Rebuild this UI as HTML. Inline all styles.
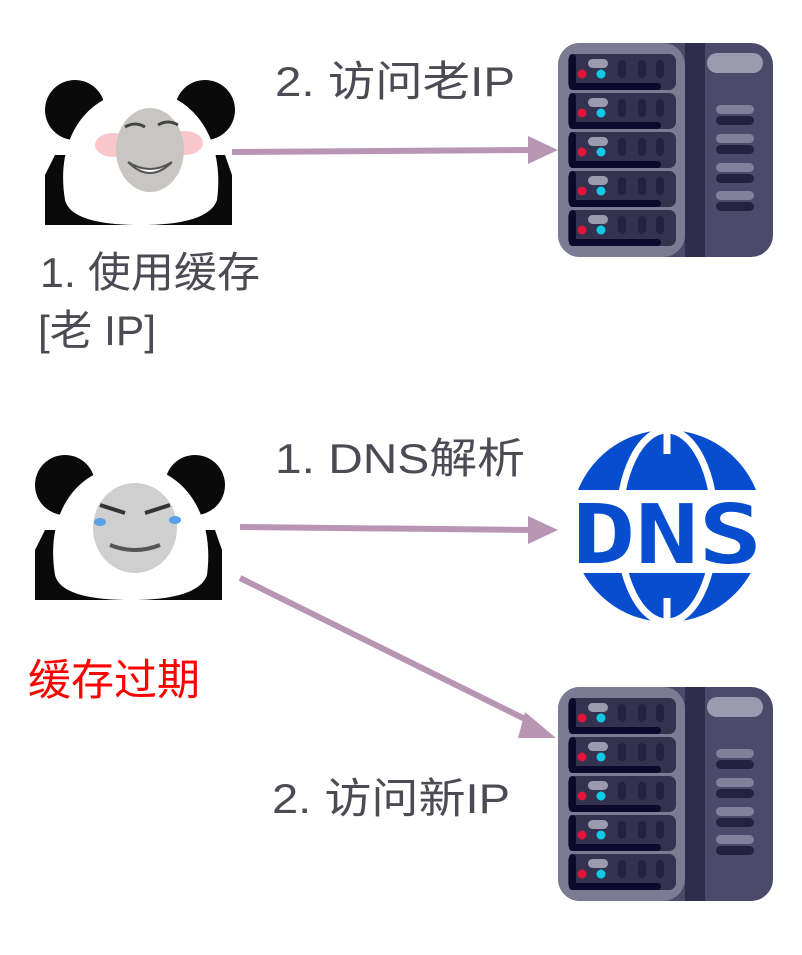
<!DOCTYPE html>
<html><head><meta charset="utf-8"><style>
body{margin:0;background:#fff;width:802px;height:950px;overflow:hidden}
text{font-family:"Liberation Sans","Noto Sans CJK SC",sans-serif}
</style></head><body>
<svg width="802" height="950" viewBox="0 0 802 950" xmlns="http://www.w3.org/2000/svg">
<defs>
<g id="srv">
  <rect x="0" y="0" width="215" height="214" rx="22" fill="#4b4a6a"/>
  <rect x="0" y="0" width="127" height="214" rx="22" fill="#7c7b94"/>
  <rect x="127" y="0" width="20" height="214" fill="#2f2d4c"/>
  <rect x="149" y="10" width="56" height="20" rx="10" fill="#9b9aae"/>
  <g fill="#80809a"><rect x="158" y="62" width="38" height="9" rx="4.5"/><rect x="158" y="91" width="38" height="9" rx="4.5"/><rect x="158" y="120" width="38" height="9" rx="4.5"/><rect x="158" y="148" width="38" height="9" rx="4.5"/></g>
  <g fill="#23223f"><rect x="158" y="73" width="38" height="9" rx="4.5"/><rect x="158" y="102" width="38" height="9" rx="4.5"/><rect x="158" y="131" width="38" height="9" rx="4.5"/><rect x="158" y="159" width="38" height="9" rx="4.5"/></g>
  <g id="slot">
    <rect x="10" y="11" width="108" height="36" rx="7" fill="#34334f"/>
    <rect x="13" y="40" width="90" height="7" rx="3.5" fill="#0c0a2c"/>
    <rect x="11" y="11" width="7" height="36" rx="3.5" fill="#0c0a2c"/>
    <rect x="30" y="16" width="20" height="9" rx="4.5" fill="#9b9aae"/>
    <rect x="60" y="17" width="8" height="18" rx="4" fill="#24223f"/>
    <rect x="80" y="17" width="8" height="18" rx="4" fill="#24223f"/>
    <rect x="98" y="17" width="8" height="18" rx="4" fill="#24223f"/>
    <circle cx="24" cy="31" r="4.5" fill="#e3133b"/>
    <circle cx="43" cy="31" r="4.5" fill="#11c8e6"/>
  </g>
  <use href="#slot" y="39"/><use href="#slot" y="78"/><use href="#slot" y="117"/><use href="#slot" y="156"/>
</g>
<g id="panda">
  <circle cx="30" cy="30" r="30" fill="#0a0a0a"/>
  <circle cx="160" cy="30" r="30" fill="#0a0a0a"/>
  <path d="M0 95 L10 75 L180 75 L187 95 L187 145 L0 145 Z" fill="#0a0a0a"/>
  <path d="M20 120 C10 60 40 12 96 10 C150 12 180 60 172 120 C165 140 130 145 96 145 C60 145 25 140 20 120Z" fill="#fff"/>
</g>
</defs>

<use href="#srv" x="558" y="43"/>
<use href="#srv" x="558" y="687"/>

<!-- panda 1 -->
<use href="#panda" x="45" y="80"/>
<ellipse cx="113" cy="145" rx="18" ry="12" fill="#f7b8bd" opacity=".8"/>
<ellipse cx="185" cy="143" rx="18" ry="12" fill="#f7b8bd" opacity=".8"/>
<ellipse cx="150" cy="150" rx="34" ry="42" fill="#c8c6c2"/>
<path d="M125 127 q10-6 20 0 M158 125 q10-6 20 0" stroke="#444" stroke-width="3" fill="none"/>
<path d="M128 162 q22 14 44 0 q-22 22-44 0z" fill="#fff" stroke="#555" stroke-width="2"/>

<!-- panda 2 -->
<use href="#panda" x="35" y="455"/>
<ellipse cx="135" cy="528" rx="42" ry="45" fill="#cfcfcf"/>
<path d="M100 505 l25 8 M170 505 l-25 8" stroke="#333" stroke-width="4"/>
<path d="M110 545 q25 10 50 0" stroke="#555" stroke-width="4" fill="none"/>
<ellipse cx="100" cy="522" rx="6" ry="4" fill="#5aa0e8"/>
<ellipse cx="175" cy="520" rx="6" ry="4" fill="#5aa0e8"/>

<!-- DNS -->
<circle cx="667" cy="526" r="96" fill="#074dcf"/>
<g stroke="#fff" stroke-width="7" fill="none">
<ellipse cx="667" cy="526" rx="48" ry="96"/>
<line x1="667" y1="430" x2="667" y2="622"/>
</g>
<path d="M650 454 L684 454 L695 490 L639 490Z M650 598 L684 598 L695 565 L639 565Z" fill="#074dcf"/>
<rect x="560" y="490" width="215" height="83" fill="#fff"/>
<text x="572" y="563" font-size="82" font-weight="bold" fill="#074dcf" textLength="190" lengthAdjust="spacingAndGlyphs" style="font-family:'DejaVu Sans Mono','Liberation Mono',monospace">DNS</text>

<!-- arrows -->
<g stroke="#b896b3" stroke-width="6" fill="none">
<line x1="232" y1="152" x2="535" y2="150"/>
<line x1="240" y1="527" x2="535" y2="530"/>
<line x1="240" y1="578" x2="535" y2="724"/>
</g>
<g fill="#b896b3">
<path d="M528 136 L558 150 L528 164Z"/>
<path d="M528 516 L558 530 L528 544Z"/>
<path d="M525 712 L556 738 L518 738Z"/>
</g>

<g fill="#4b4b55" font-size="42">
<text x="275" y="96" textLength="240" lengthAdjust="spacingAndGlyphs">2. 访问老IP</text>
<text x="40" y="287" textLength="220" lengthAdjust="spacingAndGlyphs">1. 使用缓存</text>
<text x="38" y="345" textLength="118" lengthAdjust="spacingAndGlyphs">[老 IP]</text>
<text x="275" y="473" textLength="250" lengthAdjust="spacingAndGlyphs">1. DNS解析</text>
<text x="272" y="813" textLength="238" lengthAdjust="spacingAndGlyphs">2. 访问新IP</text>
</g>
<text x="28" y="695" font-size="43" fill="#f00" textLength="172" lengthAdjust="spacingAndGlyphs">缓存过期</text>
</svg>
</body></html>
